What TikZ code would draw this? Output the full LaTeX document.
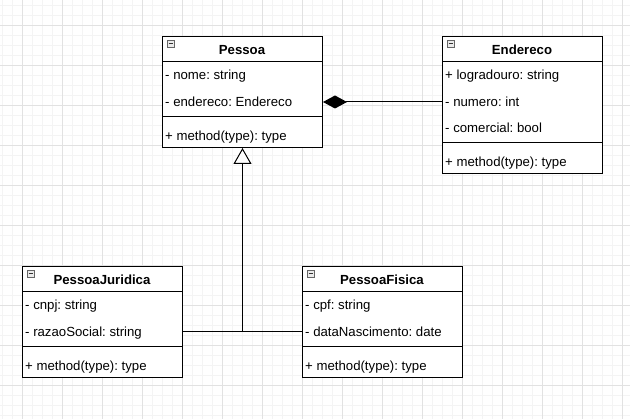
\documentclass[tikz,border=0pt]{standalone}
\usepackage{fontspec}
\setmainfont{Liberation Sans}
\usetikzlibrary{arrows.meta,calc}
\definecolor{gmajor}{HTML}{E2E2E2}
\definecolor{gminor}{HTML}{F4F4F4}
\frenchspacing
\begin{document}
\begin{tikzpicture}[x=1pt,y=-1pt,
  umlbox/.style={draw=black, line width=1pt, minimum width=160pt, inner sep=0pt, anchor=north west},
  attr/.style={anchor=west, inner sep=0pt, text height=10pt, text depth=3pt, font=\fontsize{13.2pt}{15pt}\selectfont},
  ttl/.style={inner sep=0pt, text height=10pt, text depth=3pt, font=\fontsize{13.2pt}{15pt}\selectfont\bfseries},
  sepline/.style={line width=1pt},
  icon/.style={draw=black!60, fill=black!8, line width=0.7pt, minimum size=7pt, inner sep=0pt,
    path picture={\draw[line width=0.8pt,black!80] ([xshift=1.5pt]path picture bounding box.west) -- ([xshift=-1.5pt]path picture bounding box.east);}},
  conn/.style={line width=1pt},
]
\useasboundingbox (0,0) rectangle (630,419);
\fill[white] (0,0) rectangle (630,419);
% grid
\foreach \x in {2,12,...,630} \draw[gminor, line width=0.8pt] (\x,0) -- (\x,419);
\foreach \y in {5,15,...,419} \draw[gminor, line width=0.8pt] (0,\y) -- (630,\y);
\foreach \x in {22,62,...,630} \draw[gmajor, line width=0.8pt] (\x,0) -- (\x,419);
\foreach \y in {25,65,...,419} \draw[gmajor, line width=0.8pt] (0,\y) -- (630,\y);

% Pessoa
\node[umlbox, minimum height=111pt, fill=white] (pessoa) at (162,36) {};
\draw[sepline] (162,62) -- (322,62);
\draw[sepline] (162,117) -- (322,117);
\node[icon] (pIcon) at (170.5,43.5) {};
\node[ttl] (pTitle) at (242,51) {Pessoa};
\node[attr] (pNome) at (165,76) {- nome: string};
\node[attr] (pEnd) at (165,103) {- endereco: Endereco};
\node[attr] (pMeth) at (165,137) {+ method(type): type};

% Endereco
\node[umlbox, minimum height=137pt, fill=white] (endereco) at (442,36) {};
\draw[sepline] (442,62) -- (602,62);
\draw[sepline] (442,143) -- (602,143);
\node[icon] (eIcon) at (450.5,43.5) {};
\node[ttl] (eTitle) at (522,51) {Endereco};
\node[attr] (eLog) at (445,76) {+ logradouro: string};
\node[attr] (eNum) at (445,103) {- numero: int};
\node[attr] (eCom) at (445,129) {- comercial: bool};
\node[attr] (eMeth) at (445,163) {+ method(type): type};

% PessoaJuridica
\node[umlbox, minimum height=111pt, fill=white] (pj) at (22,266) {};
\draw[sepline] (22,292) -- (182,292);
\draw[sepline] (22,347) -- (182,347);
\node[icon] (jIcon) at (30.5,273.5) {};
\node[ttl] (jTitle) at (102,281) {PessoaJuridica};
\node[attr] (jCnpj) at (25,306) {- cnpj: string};
\node[attr] (jRaz) at (25,333) {- razaoSocial: string};
\node[attr] (jMeth) at (25,367) {+ method(type): type};

% PessoaFisica
\node[umlbox, minimum height=111pt, fill=white] (pf) at (302,266) {};
\draw[sepline] (302,292) -- (462,292);
\draw[sepline] (302,347) -- (462,347);
\node[icon] (fIcon) at (310.5,273.5) {};
\node[ttl] (fTitle) at (382,281) {PessoaFisica};
\node[attr] (fCpf) at (305,306) {- cpf: string};
\node[attr] (fData) at (305,333) {- dataNascimento: date};
\node[attr] (fMeth) at (305,367) {+ method(type): type};

% composition
\coordinate (compY) at (0,102);
\draw[conn, -{Diamond[length=24pt, width=13pt, fill=black]}] (endereco.west |- compY) -- (pessoa.east |- compY);

% inheritance
\coordinate (juncY) at (0,332);
\coordinate (junc) at (pessoa.south |- juncY);
\draw[conn] (pj.east |- juncY) -- (junc);
\draw[conn] (pf.west |- juncY) -- (junc);
\draw[conn, -{Triangle[open, length=16pt, width=18pt, fill=white]}] (junc) -- (pessoa.south);
\end{tikzpicture}
\end{document}
